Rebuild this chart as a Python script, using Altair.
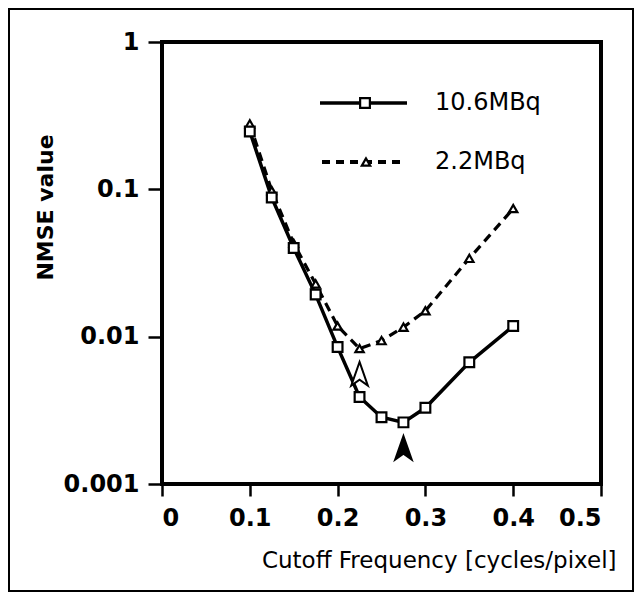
import altair as alt
import pandas as pd

# ---- data ----
freq = [0.1, 0.125, 0.15, 0.175, 0.2, 0.225, 0.25, 0.275, 0.3, 0.35, 0.4]
nmse_106 = [0.247, 0.088, 0.040, 0.0193, 0.0085, 0.0039, 0.00284, 0.00262, 0.00329, 0.0067, 0.0118]
nmse_22 = [0.278, 0.098, 0.043, 0.0228, 0.0118, 0.0083, 0.0094, 0.0116, 0.015, 0.034, 0.074]
series_names = ["10.6MBq", "2.2MBq"]

arrow_x = [0.225, 0.275]
arrow_y = [0.0056, 0.00176]
arrow_fill = ["white", "black"]

x_ticks = [0, 0.1, 0.2, 0.3, 0.4, 0.5]
y_ticks = [0.001, 0.01, 0.1, 1]
x_title = "Cutoff Frequency [cycles/pixel]"
y_title = "NMSE value"

FONT = "DejaVu Sans"

df_a = pd.DataFrame({"freq": freq, "nmse": nmse_106})
df_b = pd.DataFrame({"freq": freq, "nmse": nmse_22})
df_arrow = pd.DataFrame({"freq": arrow_x, "nmse": arrow_y, "fill": arrow_fill})
one = pd.DataFrame({"a": [0]})

x_enc = alt.X(
    "freq:Q",
    scale=alt.Scale(domain=[0, 0.5], nice=False, zero=False),
    axis=alt.Axis(
        values=x_ticks, format="~g", title=x_title,
        labelFont=FONT, labelFontSize=24, labelFontWeight="bold", labelColor="black",
        labelPadding=10, tickSize=12,
        titleFont=FONT, titleFontSize=23, titleFontWeight="normal", titleColor="black",
        titleX=454, titleY=83, titleAlign="right", titleBaseline="alphabetic",
    ),
)
y_enc = alt.Y(
    "nmse:Q",
    scale=alt.Scale(type="log", domain=[0.001, 1], nice=False),
    axis=alt.Axis(
        values=y_ticks, format="~g", title=y_title,
        labelFont=FONT, labelFontSize=24, labelFontWeight="bold", labelColor="black",
        labelPadding=9, tickSize=14,
        titleFont=FONT, titleFontSize=22, titleFontWeight="bold", titleColor="black",
        titleX=-117, titleY=165, titleAngle=270, titleAlign="center", titleBaseline="middle",
    ),
)

line_b = alt.Chart(df_b).mark_line(color="black", strokeWidth=3.2, strokeDash=[9, 6]).encode(x=x_enc, y=y_enc)
line_a = alt.Chart(df_a).mark_line(color="black", strokeWidth=3.5).encode(x="freq:Q", y="nmse:Q")
pts_b = alt.Chart(df_b).mark_point(
    shape="triangle-up", filled=True, fill="white", stroke="black", strokeWidth=2.2, size=70, opacity=1
).encode(x="freq:Q", y="nmse:Q")
pts_a = alt.Chart(df_a).mark_point(
    shape="square", filled=True, fill="white", stroke="black", strokeWidth=2.2, size=95, opacity=1
).encode(x="freq:Q", y="nmse:Q")

arrow_path = "M0,-1 L0.7,1 L0,0.5 L-0.7,1 Z"
arrows = alt.Chart(df_arrow).mark_point(
    shape=arrow_path, filled=True, stroke="black", strokeWidth=2, size=560, opacity=1
).encode(x="freq:Q", y="nmse:Q", fill=alt.Fill("fill:N", scale=None))

# legend (manual)
leg_line_a = alt.Chart(one).mark_rule(color="black", strokeWidth=3.5).encode(
    x=alt.value(158), x2=alt.value(245), y=alt.value(61))
leg_pt_a = alt.Chart(one).mark_point(
    shape="square", filled=True, fill="white", stroke="black", strokeWidth=2.2, size=95, opacity=1
).encode(x=alt.value(203), y=alt.value(61))
leg_txt_a = alt.Chart(one).mark_text(
    align="left", baseline="middle", font=FONT, fontSize=24, color="black"
).encode(x=alt.value(273), y=alt.value(61), text=alt.value(series_names[0]))

leg_line_b = alt.Chart(one).mark_rule(color="black", strokeWidth=4, strokeDash=[8, 6]).encode(
    x=alt.value(160), x2=alt.value(238), y=alt.value(120))
leg_pt_b = alt.Chart(one).mark_point(
    shape="triangle-up", filled=True, fill="white", stroke="black", strokeWidth=2.2, size=70, opacity=1
).encode(x=alt.value(204), y=alt.value(120))
leg_txt_b = alt.Chart(one).mark_text(
    align="left", baseline="middle", font=FONT, fontSize=24, color="black"
).encode(x=alt.value(273), y=alt.value(120), text=alt.value(series_names[1]))

# outer figure frame
frame = alt.Chart(one).mark_rect(fillOpacity=0, stroke="black", strokeWidth=2).encode(
    x=alt.value(-153), x2=alt.value(471), y=alt.value(-33), y2=alt.value(549))

chart = alt.layer(
    line_b, line_a, pts_b, pts_a, arrows,
    leg_line_a, leg_pt_a, leg_txt_a, leg_line_b, leg_pt_b, leg_txt_b,
    frame,
).properties(
    width=439, height=442,
    autosize=alt.AutoSizeParams(type="none"),
    padding={"left": 154, "top": 34, "right": 33, "bottom": 109},
    background="white",
).configure_view(
    stroke="black", strokeWidth=4,
).configure_axis(
    domain=False, grid=False, ticks=True, tickColor="black", tickWidth=2.5,
)

chart.save("out.html", embed_options={"renderer": "svg", "actions": False})
